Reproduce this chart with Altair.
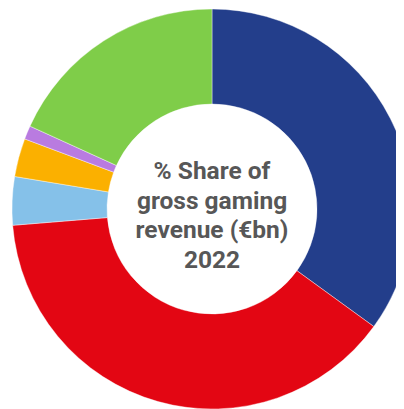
import altair as alt
import pandas as pd

categories = ["Blue", "Red", "Light blue", "Orange", "Purple", "Green"]
shares = [35.0, 38.7, 3.9, 3.1, 1.1, 18.2]
colors = ["#233E8B", "#E30613", "#85C1E9", "#FBB000", "#B97BE0", "#7FCD49"]
center_lines = ["% Share of", "gross gaming", "revenue (€bn)", "2022"]

df = pd.DataFrame({"category": categories, "share": shares, "order": list(range(len(categories)))})

cx, cy = 204, 201

donut = alt.Chart(df).mark_arc(outerRadius=200, innerRadius=105, stroke="white", strokeWidth=0.4).encode(
    theta=alt.Theta("share:Q", stack=True),
    order=alt.Order("order:Q"),
    color=alt.Color("category:N", scale=alt.Scale(domain=categories, range=colors), legend=None),
    x=alt.value(cx),
    y=alt.value(cy),
)

label = alt.Chart(pd.DataFrame({"t": ["\n".join(center_lines)]})).mark_text(
    font="Roboto", fontWeight="bold", fontSize=24.5, color="#575757",
    lineBreak="\n", lineHeight=29.5, align="center", baseline="alphabetic"
).encode(text="t:N", x=alt.value(cx), y=alt.value(171))

chart = (donut + label).properties(
    width=388, height=401, padding=0, autosize="none"
).configure_view(stroke=None)

chart.save("out.html", embed_options={"renderer": "svg", "actions": False})
